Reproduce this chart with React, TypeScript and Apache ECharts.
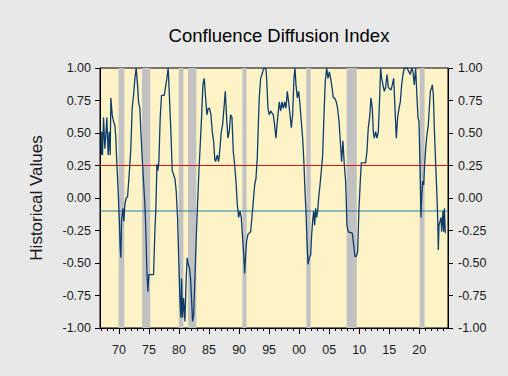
import React, { useEffect, useRef } from "react";
import * as echarts from "echarts";

// Observation dates (decimal years) and index values, split by era
const dates1 = [1967.08, 1967.14, 1967.25, 1967.42, 1967.64, 1967.81, 1967.97, 1968.19, 1968.36, 1968.53, 1968.64, 1968.86, 1969.08, 1969.31, 1969.47, 1969.64, 1969.86, 1970.08, 1970.19, 1970.31, 1970.42, 1970.64, 1970.81, 1970.97, 1971.19, 1971.42, 1971.69, 1971.97, 1972.19, 1972.42, 1972.64, 1972.86, 1973.08, 1973.25, 1973.47, 1973.64, 1973.86, 1974.08, 1974.31, 1974.47, 1974.64, 1974.81, 1974.97, 1975.75, 1975.97, 1976.14, 1976.31, 1976.47, 1976.64, 1976.86, 1977.08, 1977.53, 1977.81, 1977.97, 1978.19, 1978.36, 1978.64, 1978.86, 1979.31, 1979.53, 1979.75, 1979.97, 1980.14, 1980.31, 1980.42, 1980.58, 1980.75, 1980.97, 1981.19, 1981.36, 1981.53, 1981.75, 1981.92, 1982.08, 1982.25, 1982.42, 1982.64, 1982.86, 1983.08, 1983.31, 1983.53, 1983.75, 1983.97, 1984.19, 1984.42, 1984.64, 1984.86, 1985.08, 1985.31, 1985.53, 1985.75];
const values1 = [0.33, 0.51, 0.33, 0.62, 0.38, 0.49, 0.62, 0.33, 0.51, 0.33, 0.77, 0.64, 0.59, 0.56, 0.46, 0.26, 0.05, -0.21, -0.38, -0.46, -0.18, -0.08, -0.18, -0.05, 0.0, 0.01, 0.18, 0.38, 0.69, 0.79, 0.92, 1.0, 0.87, 0.74, 0.69, 0.51, 0.31, 0.13, -0.05, -0.26, -0.56, -0.72, -0.59, -0.59, -0.26, -0.08, 0.26, 0.21, 0.28, 0.62, 0.79, 0.79, 0.87, 0.92, 1.0, 0.82, 0.51, 0.21, 0.15, 0.05, -0.15, -0.51, -0.77, -0.92, -0.62, -0.92, -0.77, -0.95, -0.62, -0.46, -0.51, -0.54, -0.62, -0.77, -0.95, -0.9, -0.62, -0.31, -0.05, 0.21, 0.41, 0.62, 0.87, 0.92, 0.77, 0.64, 0.69, 0.69, 0.64, 0.51, 0.44];

const dates2 = [1985.95, 1986.09, 1986.36, 1986.59, 1986.81, 1987.03, 1987.25, 1987.48, 1987.7, 1987.92, 1988.14, 1988.36, 1988.59, 1988.81, 1989.03, 1989.25, 1989.48, 1989.7, 1989.92, 1990.14, 1990.36, 1990.59, 1990.81, 1990.92, 1991.09, 1991.25, 1991.48, 1991.92, 1992.14, 1992.36, 1992.59, 1992.81, 1993.03, 1993.2, 1993.36, 1993.59, 1993.81, 1994.03, 1994.25, 1994.48, 1994.59, 1994.81, 1995.03, 1995.25, 1995.7, 1995.92, 1996.14, 1996.31, 1996.48, 1996.7, 1996.92, 1997.14, 1997.36, 1997.59, 1997.81, 1998.03, 1998.25, 1998.48, 1998.7, 1998.92, 1999.14, 1999.31, 1999.48, 1999.7, 1999.92, 2000.14, 2000.36, 2000.59, 2000.81, 2000.98, 2001.14, 2001.31, 2001.48, 2001.7, 2001.92, 2002.09, 2002.25, 2002.42, 2002.59, 2002.75, 2002.92, 2003.09, 2003.25, 2003.48, 2003.7, 2003.92, 2004.14, 2004.36, 2004.59, 2004.81, 2005.03, 2005.25, 2005.48, 2005.7];
const values2 = [0.3, 0.28, 0.33, 0.28, 0.38, 0.51, 0.56, 0.69, 0.82, 0.62, 0.46, 0.51, 0.64, 0.62, 0.36, 0.26, 0.13, -0.05, -0.15, -0.1, -0.15, -0.31, -0.46, -0.58, -0.44, -0.33, -0.28, -0.26, -0.15, -0.03, 0.1, 0.15, 0.31, 0.56, 0.77, 0.92, 0.95, 0.99, 1.0, 0.99, 0.92, 0.69, 0.64, 0.67, 0.64, 0.56, 0.46, 0.56, 0.64, 0.74, 0.67, 0.74, 0.69, 0.74, 0.69, 0.82, 0.74, 0.64, 0.54, 0.64, 0.92, 1.0, 0.87, 0.77, 0.82, 0.72, 0.59, 0.46, 0.26, 0.05, -0.1, -0.33, -0.51, -0.46, -0.44, -0.28, -0.18, -0.1, -0.21, -0.08, -0.15, -0.1, 0.0, 0.1, 0.21, 0.33, 0.64, 0.9, 1.0, 0.92, 0.97, 0.92, 0.85, 0.77];

const dates3 = [2005.91, 2006.19, 2006.41, 2006.64, 2006.86, 2007.08, 2007.3, 2007.52, 2007.75, 2007.97, 2008.19, 2008.86, 2009.08, 2009.3, 2009.52, 2009.75, 2009.97, 2010.19, 2010.36, 2011.08, 2011.3, 2011.52, 2011.75, 2011.97, 2012.19, 2012.36, 2012.52, 2012.75, 2012.97, 2013.19, 2013.41, 2013.58, 2013.75, 2013.97, 2014.19, 2014.41, 2014.64, 2014.86, 2015.3, 2015.52, 2015.75, 2015.97, 2016.19, 2016.41, 2016.64, 2016.86, 2017.08, 2017.3, 2017.52, 2017.97, 2018.3, 2018.52, 2018.75, 2018.97, 2019.19, 2019.41, 2019.64, 2019.8, 2019.97, 2020.19, 2020.3, 2020.41, 2020.58, 2020.75, 2020.91, 2021.08, 2021.3, 2021.52, 2021.69, 2021.86, 2022.08, 2022.19, 2022.36, 2022.52, 2022.75, 2022.91, 2023.08, 2023.19, 2023.3, 2023.47, 2023.64, 2023.75, 2023.86, 2023.97, 2024.08, 2024.19, 2024.36];
const values3 = [0.77, 0.74, 0.69, 0.59, 0.44, 0.28, 0.44, 0.26, 0.13, -0.21, -0.26, -0.27, -0.36, -0.45, -0.45, -0.41, -0.08, 0.13, 0.27, 0.27, 0.36, 0.54, 0.62, 0.77, 0.69, 0.51, 0.46, 0.51, 0.46, 0.51, 0.77, 1.0, 0.92, 0.87, 0.82, 0.85, 0.95, 0.85, 0.83, 0.87, 0.92, 0.69, 0.46, 0.62, 0.69, 0.74, 0.87, 0.95, 1.0, 1.0, 0.97, 0.95, 1.0, 0.97, 0.87, 1.0, 0.77, 0.62, 0.59, 0.13, -0.15, 0.0, 0.13, 0.1, 0.26, 0.38, 0.49, 0.56, 0.69, 0.82, 0.85, 0.87, 0.79, 0.54, 0.26, 0.08, -0.15, -0.4, -0.21, -0.18, -0.15, -0.26, -0.18, -0.1, -0.26, -0.08, -0.27];

// Recession periods (start, end) in decimal years
const recessionStarts = [1969.92, 1973.83, 1979.95, 1981.5, 1990.55, 2001.2, 2007.92, 2020.08];
const recessionEnds = [1970.88, 1975.2, 1980.72, 1982.88, 1991.25, 2001.92, 2009.6, 2020.9];

// Reference levels
const upperLevel = 0.25;
const lowerLevel = -0.1;

// Axis ticks
const majorYears = [1970, 1975, 1980, 1985, 1990, 1995, 2000, 2005, 2010, 2015, 2020];
const minorYears = [1967, 1968, 1969, 1970, 1971, 1972, 1973, 1974, 1975, 1976, 1977, 1978, 1979, 1980, 1981, 1982, 1983, 1984, 1985, 1986, 1987, 1988, 1989, 1990, 1991, 1992, 1993, 1994, 1995, 1996, 1997, 1998, 1999, 2000, 2001, 2002, 2003, 2004, 2005, 2006, 2007, 2008, 2009, 2010, 2011, 2012, 2013, 2014, 2015, 2016, 2017, 2018, 2019, 2020, 2021, 2022, 2023, 2024];

const xMin = 1966.83;
const xMax = 2024.8;

export default function App() {
  const ref = useRef<HTMLDivElement>(null);

  useEffect(() => {
    if (!ref.current) return;
    const chart = echarts.init(ref.current, null, { renderer: "svg" });
    const dates = [...dates1, ...dates2, ...dates3];
    const values = [...values1, ...values2, ...values3];
    const lineData = dates.map((d, i) => [d, values[i]]);
    const font = "'Liberation Sans', Arial, sans-serif";
    const labelColor = "#1a1a1a";

    const refLine = (level: number, color: string, name: string) => ({
      type: "line",
      name,
      data: [
        [xMin, level],
        [xMax, level],
      ],
      z: 2,
      silent: true,
      showSymbol: false,
      symbol: "none",
      color,
      itemStyle: { color },
      lineStyle: { color, width: 1.2, type: "solid", opacity: 1 },
      emphasis: { disabled: true },
    });

    chart.setOption({
      animation: false,
      backgroundColor: "#e8e8e8",
      textStyle: { fontFamily: font },
      title: {
        text: "Confluence Diffusion Index",
        left: 274,
        textAlign: "center",
        top: 21,
        textStyle: { fontSize: 18.5, fontWeight: "normal", color: "#000", fontFamily: font },
      },
      grid: {
        left: 100,
        right: 60,
        top: 68,
        bottom: 48,
        show: true,
        backgroundColor: "#fdf3c6",
        borderColor: "#000",
        borderWidth: 1,
      },
      xAxis: [
        {
          type: "value",
          min: xMin,
          max: xMax,
          position: "bottom",
          splitLine: { show: false },
          axisLine: { show: true, onZero: false, lineStyle: { color: "#000" } },
          axisTick: {
            show: true,
            customValues: majorYears,
            length: 6,
            inside: false,
            lineStyle: { color: "#000" },
          },
          axisLabel: {
            show: true,
            customValues: majorYears,
            margin: 15,
            fontSize: 12.5,
            color: labelColor,
            fontFamily: font,
            formatter: (v: number) => String(Math.round(v) % 100).padStart(2, "0"),
          },
        },
        {
          type: "value",
          min: xMin,
          max: xMax,
          position: "bottom",
          splitLine: { show: false },
          axisLine: { show: false, onZero: false },
          axisTick: {
            show: true,
            customValues: minorYears,
            length: 3,
            inside: false,
            lineStyle: { color: "#000" },
          },
          axisLabel: { show: false },
        },
      ],
      yAxis: [
        {
          type: "value",
          min: -1,
          max: 1,
          interval: 0.25,
          position: "left",
          name: "Historical Values",
          nameLocation: "middle",
          nameGap: 55,
          nameRotate: 90,
          nameTextStyle: { fontSize: 17, color: labelColor, fontFamily: font },
          splitLine: { show: false },
          axisLine: { show: true, onZero: false, lineStyle: { color: "#000" } },
          axisTick: { show: true, length: 5, lineStyle: { color: "#000" } },
          axisLabel: {
            margin: 9,
            fontSize: 12.5,
            color: labelColor,
            fontFamily: font,
            formatter: (v: number) => v.toFixed(2),
          },
        },
        {
          type: "value",
          min: -1,
          max: 1,
          interval: 0.25,
          position: "right",
          splitLine: { show: false },
          axisLine: { show: true, onZero: false, lineStyle: { color: "#000" } },
          axisTick: { show: true, length: 5, lineStyle: { color: "#000" } },
          axisLabel: {
            margin: 10,
            fontSize: 12.5,
            color: labelColor,
            fontFamily: font,
            formatter: (v: number) => v.toFixed(2),
          },
        },
      ],
      series: [
        {
          type: "line",
          name: "recessions",
          data: [],
          z: 1,
          silent: true,
          markArea: {
            silent: true,
            itemStyle: { color: "#c2c2c2" },
            data: recessionStarts.map((s, i) => [{ xAxis: s }, { xAxis: recessionEnds[i] }]),
          },
        },
        refLine(upperLevel, "#e01010", "upper"),
        refLine(lowerLevel, "#1f80a6", "lower"),
        {
          type: "line",
          name: "Confluence Diffusion Index",
          data: lineData,
          z: 3,
          showSymbol: false,
          symbol: "none",
          color: "#0e3d6b",
          lineStyle: { color: "#0e3d6b", width: 1.3 },
        },
      ],
    });

    return () => chart.dispose();
  }, []);

  return (
    <div
      ref={ref}
      style={{ position: "fixed", left: 0, top: 0, width: 508, height: 376 }}
    />
  );
}
